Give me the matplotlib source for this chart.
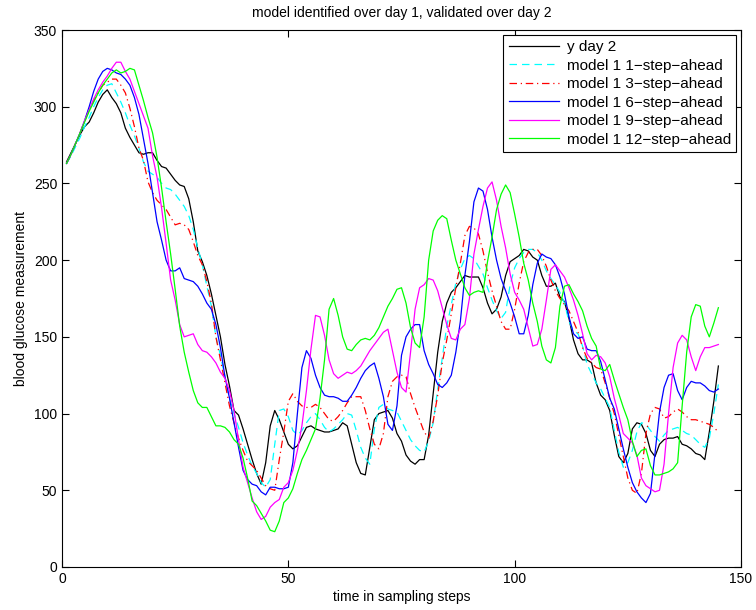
import matplotlib
matplotlib.use("Agg")
import matplotlib.pyplot as plt
import numpy as np

plt.rcParams['font.family'] = ['Liberation Sans', 'DejaVu Sans']

steps = list(range(1, 146))

y_day2 = [264, 270, 276, 282, 287, 290, 296, 303, 308, 311, 306, 302, 296, 286, 280, 275, 270, 269, 270, 270,
          265, 261, 260, 256, 252, 249, 248, 240, 225, 206, 199, 190, 178, 164, 150, 132, 118, 102, 99, 90,
          80, 70, 61, 54, 68, 92, 102, 96, 88, 80, 77, 79, 85, 91, 92, 90, 89, 88, 88, 89,
          90, 94, 92, 80, 68, 61, 60, 78, 96, 100, 101, 102, 97, 87, 82, 73, 69, 67, 70, 70,
          86, 113, 140, 160, 172, 179, 182, 186, 190, 189, 189, 189, 182, 172, 165, 168, 176, 190, 199, 201,
          203, 207, 206, 202, 200, 190, 183, 183, 185, 176, 173, 162, 148, 139, 135, 135, 133, 120, 112, 109,
          102, 86, 72, 68, 74, 90, 94, 93, 87, 76, 72, 80, 83, 84, 84, 85, 80, 79, 77, 74,
          73, 70, 88, 108, 131]

step1 = [263, 268, 274, 280, 287, 293, 300, 306, 311, 314, 315, 309, 303, 296, 288, 281, 273, 264, 258, 256,
         254, 250, 247, 246, 243, 239, 235, 229, 220, 208, 197, 183, 170, 150, 138, 124, 110, 100, 91, 81,
         73, 66, 61, 55, 52, 57, 80, 102, 103, 98, 89, 86, 89, 94, 98, 100, 96, 91, 88, 90,
         93, 96, 100, 99, 89, 78, 71, 67, 90, 104, 106, 103, 102, 101, 95, 89, 83, 79, 76, 75,
         82, 94, 116, 136, 157, 171, 185, 194, 201, 203, 201, 196, 191, 182, 174, 167, 162, 166, 184, 195,
         201, 205, 207, 207, 205, 200, 193, 188, 184, 179, 172, 160, 154, 152, 144, 132, 126, 120, 116, 110,
         104, 89, 75, 65, 68, 76, 88, 94, 93, 89, 85, 82, 86, 89, 90, 91, 89, 87, 86, 83,
         80, 78, 84, 100, 119]

step3 = [263, 269, 276, 283, 291, 298, 304, 309, 314, 316, 318, 318, 314, 309, 299, 287, 273, 265, 251, 244,
         239, 236, 233, 228, 223, 224, 223, 220, 212, 203, 197, 186, 172, 150, 135, 120, 105, 94, 84, 76,
         69, 66, 63, 58, 53, 51, 50, 70, 88, 108, 113, 108, 105, 104, 104, 106, 104, 100, 96, 95,
         98, 102, 107, 111, 111, 111, 102, 90, 80, 77, 87, 111, 121, 124, 125, 124, 113, 104, 96, 88,
         84, 95, 112, 133, 148, 165, 182, 198, 216, 222, 221, 217, 206, 192, 180, 170, 160, 155, 155, 168,
         185, 199, 205, 207, 207, 203, 196, 187, 180, 175, 171, 167, 160, 153, 143, 136, 133, 130, 129, 120,
         110, 100, 86, 72, 58, 50, 48, 61, 87, 100, 104, 103, 97, 98, 101, 103, 101, 98, 96, 96,
         95, 94, 93, 91, 88]

step6 = [263, 269, 276, 283, 291, 300, 310, 318, 323, 325, 324, 322, 321, 318, 314, 306, 295, 279, 263, 244,
         225, 213, 200, 193, 193, 195, 188, 187, 186, 183, 178, 172, 168, 158, 143, 124, 110, 94, 78, 63,
         57, 54, 53, 49, 47, 52, 52, 51, 51, 52, 68, 100, 130, 141, 136, 125, 117, 112, 111, 111,
         110, 108, 108, 112, 117, 123, 128, 131, 133, 123, 111, 93, 89, 105, 138, 150, 155, 158, 158, 141,
         132, 126, 119, 117, 120, 125, 140, 160, 190, 212, 238, 247, 245, 233, 215, 200, 188, 180, 172, 163,
         152, 152, 164, 184, 198, 204, 202, 201, 197, 189, 178, 163, 152, 149, 150, 142, 141, 141, 134, 122,
         110, 103, 90, 77, 65, 55, 49, 45, 42, 48, 74, 101, 117, 125, 126, 115, 109, 117, 121, 120,
         120, 118, 115, 114, 116]

step9 = [263, 269, 276, 283, 291, 298, 305, 311, 316, 320, 325, 329, 329, 323, 318, 310, 302, 294, 286, 268,
         254, 234, 211, 187, 174, 158, 150, 151, 152, 145, 141, 140, 137, 133, 127, 123, 115, 102, 83, 65,
         55, 45, 36, 31, 33, 39, 42, 44, 52, 55, 63, 76, 92, 115, 142, 164, 163, 151, 135, 126,
         123, 125, 127, 126, 128, 131, 136, 141, 145, 149, 153, 155, 141, 127, 117, 114, 140, 168, 182, 184,
         188, 187, 180, 169, 158, 149, 148, 155, 158, 175, 204, 220, 235, 247, 251, 239, 222, 208, 191, 179,
         174, 168, 156, 144, 145, 155, 174, 194, 197, 193, 189, 182, 174, 164, 152, 139, 135, 138, 137, 133,
         124, 110, 99, 87, 84, 81, 73, 58, 53, 51, 49, 50, 67, 100, 130, 146, 151, 148, 137, 128,
         137, 143, 143, 144, 145]

step12 = [263, 269, 276, 283, 290, 297, 303, 309, 314, 318, 322, 324, 322, 323, 325, 324, 314, 304, 293, 283,
          267, 247, 225, 204, 181, 157, 140, 127, 115, 107, 104, 104, 98, 92, 92, 91, 88, 83, 80, 71,
          58, 43, 40, 35, 30, 24, 23, 30, 42, 45, 51, 61, 70, 76, 83, 90, 110, 135, 168, 175,
          164, 150, 142, 141, 145, 148, 149, 148, 151, 156, 163, 170, 175, 181, 182, 172, 156, 146, 143, 163,
          200, 219, 226, 229, 227, 213, 200, 191, 182, 177, 179, 180, 179, 199, 215, 233, 243, 249, 244, 230,
          215, 198, 187, 172, 160, 144, 135, 133, 143, 170, 183, 184, 178, 173, 167, 157, 149, 144, 129, 128,
          132, 122, 113, 104, 96, 82, 72, 76, 77, 66, 60, 60, 61, 62, 64, 68, 105, 140, 163, 171,
          170, 157, 150, 159, 169]

labels = ['y day 2', 'model 1 1\u2212step\u2212ahead', 'model 1 3\u2212step\u2212ahead',
          'model 1 6\u2212step\u2212ahead', 'model 1 9\u2212step\u2212ahead', 'model 1 12\u2212step\u2212ahead']

fig = plt.figure(figsize=(7.56, 6.10), dpi=100)
ax = fig.add_axes([62/756, 1 - 567/610, (741-62)/756, (567-30)/610])

lw = 0.9
ax.plot(steps, y_day2, color='black', lw=lw, label=labels[0])
ax.plot(steps, step1, color='#00ffff', lw=lw, ls=(0, (6, 4)), label=labels[1])
ax.plot(steps, step3, color='#ff0000', lw=lw, ls=(0, (6, 3, 1, 3)), label=labels[2])
ax.plot(steps, step6, color='#0000ff', lw=lw, label=labels[3])
ax.plot(steps, step9, color='#ff00ff', lw=lw, label=labels[4])
ax.plot(steps, step12, color='#00ff00', lw=lw, label=labels[5])

ax.set_xlim(0, 150)
ax.set_ylim(0, 350)
ax.set_xticks([0, 50, 100, 150])
ax.set_yticks(range(0, 351, 50))
ax.tick_params(direction='in', top=True, right=True, labelsize=10, length=5, width=0.8)
for s in ax.spines.values():
    s.set_linewidth(0.8)

ax.set_title('model identified over day 1, validated over day 2', fontsize=10, pad=9)
ax.set_xlabel('time in sampling steps', fontsize=10, labelpad=3)
ax.set_ylabel('blood glucose measurement', fontsize=10, labelpad=4)

leg = ax.legend(loc='upper right', fontsize=11, fancybox=False, framealpha=1,
                edgecolor='black', borderaxespad=0.3, handlelength=3.3,
                labelspacing=0.3, borderpad=0.35, handletextpad=0.5)
leg.get_frame().set_linewidth(0.8)

fig.savefig('out.png', dpi=100)
